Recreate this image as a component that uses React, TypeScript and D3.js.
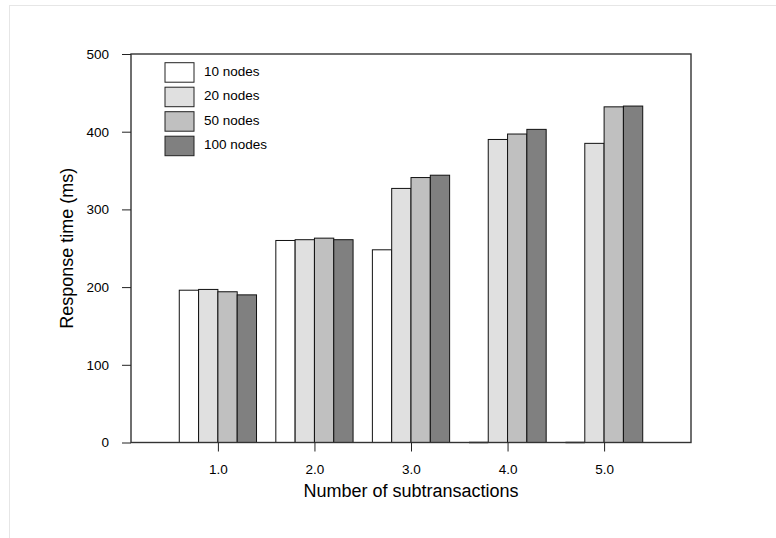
import React, { useEffect, useRef } from 'react'
import * as d3 from 'd3'

const categories = [1, 2, 3, 4, 5]
const seriesNames = ['10 nodes', '20 nodes', '50 nodes', '100 nodes']
const seriesColors = ['#ffffff', '#e0e0e0', '#c0c0c0', '#808080']
const nodes10 = [196, 260, 248, 0, 0]
const nodes20 = [197, 261, 327, 390, 385]
const nodes50 = [194, 263, 341, 397, 432]
const nodes100 = [190, 261, 344, 403, 433]
const seriesValues = [nodes10, nodes20, nodes50, nodes100]
const yTicks = [0, 100, 200, 300, 400, 500]
const xTicks = [1, 2, 3, 4, 5]

const W = 776
const H = 538
const left = 131
const right = 691
const top = 54
const bottom = 442.5
const barW = 0.2

function App() {
    const xRef = useRef<SVGGElement>(null)
    const yRef = useRef<SVGGElement>(null)

    const x = d3.scaleLinear().domain([0.1, 5.9]).range([left, right])
    const y = d3.scaleLinear().domain([0, 500]).range([bottom, top])

    useEffect(() => {
        const xAxis = d3.axisBottom(x).tickValues(xTicks).tickFormat(d3.format('.1f')).tickSize(9).tickSizeOuter(0).tickPadding(13)
        const yAxis = d3.axisLeft(y).tickValues(yTicks).tickSize(9).tickSizeOuter(0).tickPadding(13)

        const gx = d3.select(xRef.current)
        gx.call(xAxis as any)
        gx.select('.domain').remove()
        gx.selectAll('line').attr('stroke', '#222')
        gx.selectAll('text').attr('font-size', 13.5).attr('font-family', 'Liberation Sans, Arial, sans-serif').attr('fill', '#000')

        const gy = d3.select(yRef.current)
        gy.call(yAxis as any)
        gy.select('.domain').remove()
        gy.selectAll('line').attr('stroke', '#222')
        gy.selectAll('text').attr('font-size', 13.5).attr('font-family', 'Liberation Sans, Arial, sans-serif').attr('fill', '#000')

        return () => {
            gx.selectAll('*').remove()
            gy.selectAll('*').remove()
        }
    }, [])

    const bw = x(barW) - x(0)

    return (
        <svg width={W} height={H} style={{ position: 'absolute', left: 0, top: 0, background: '#fff' }}
            fontFamily="Liberation Sans, Arial, sans-serif">
            <rect x={9.5} y={5.5} width={W} height={H} fill="none" stroke="#e6e6e6" />

            {seriesValues.map((vals, si) => (
                <g key={seriesNames[si]}>
                    {categories.map((c, ci) => {
                        const bx = x(c + (si - 2) * barW)
                        const v = vals[ci]
                        if (v === 0) {
                            return <line key={c} x1={bx} x2={bx + bw} y1={y(0)} y2={y(0)} stroke="#222" strokeWidth={1.5} />
                        }
                        return (
                            <rect key={c} x={bx} y={y(v)} width={bw} height={y(0) - y(v)}
                                fill={seriesColors[si]} stroke="#111" strokeWidth={1} />
                        )
                    })}
                </g>
            ))}

            <rect x={left} y={top} width={right - left} height={bottom - top} fill="none" stroke="#333" strokeWidth={1.4} />

            <g ref={xRef} transform={`translate(0,${bottom})`} />
            <g ref={yRef} transform={`translate(${left},0)`} />

            {seriesNames.map((name, i) => (
                <g key={name} transform={`translate(165,${62.7 + i * 24.5})`}>
                    <rect width={29} height={19.5} fill={seriesColors[i]} stroke="#222" strokeWidth={1} />
                    <text x={39} y={13} fontSize={13.5} fill="#000">{name}</text>
                </g>
            ))}

            <text x={(left + right) / 2} y={497} textAnchor="middle" fontSize={18}>Number of subtransactions</text>
            <text transform={`translate(73,${(top + bottom) / 2}) rotate(-90)`} textAnchor="middle" fontSize={18}>Response time (ms)</text>
        </svg>
    )
}

export default App
